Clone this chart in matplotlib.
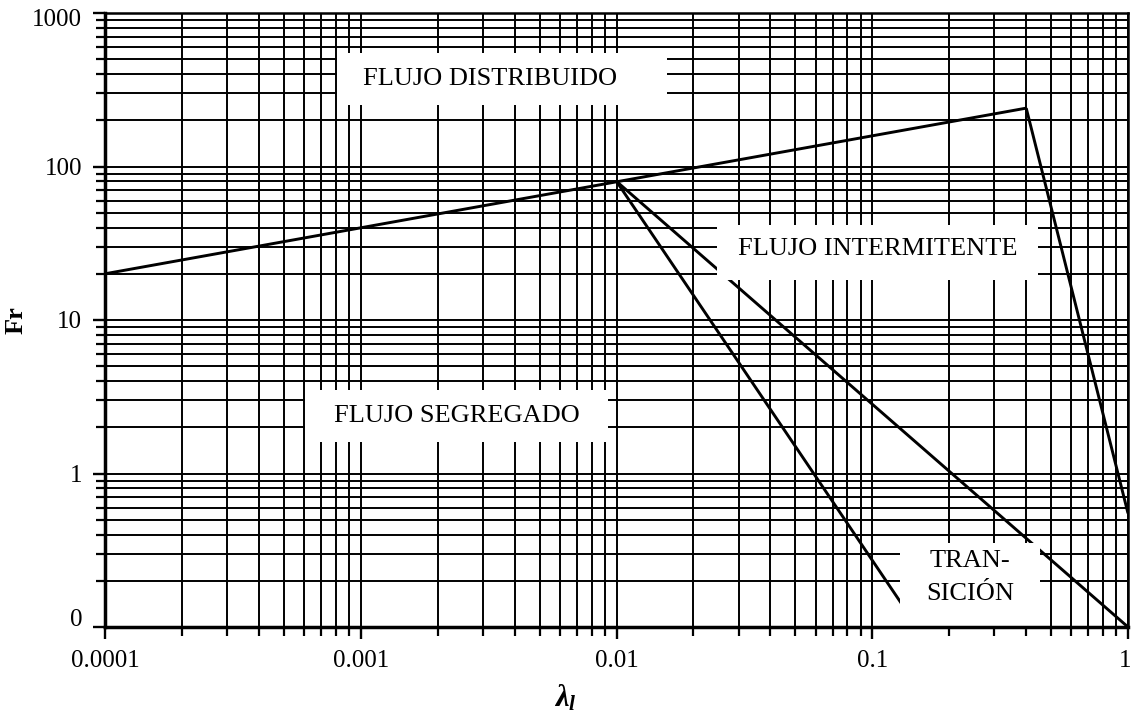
import matplotlib
matplotlib.use("Agg")
import matplotlib.pyplot as plt
from matplotlib.ticker import LogLocator, FixedLocator, FixedFormatter, NullFormatter
from matplotlib.patches import Rectangle
from matplotlib.transforms import ScaledTranslation

plt.rcParams['font.family'] = ['Liberation Serif', 'DejaVu Serif']
plt.rcParams['mathtext.fontset'] = 'custom'
plt.rcParams['mathtext.rm'] = 'Liberation Serif'
plt.rcParams['mathtext.it'] = 'Liberation Serif:italic:bold'
plt.rcParams['mathtext.bf'] = 'Liberation Serif:bold'

# Flow-pattern boundaries (liquid holdup lambda_l vs Froude number)
lam_upper = [1e-4, 0.4]
fr_upper = [20, 240]
lam_right = [0.4, 1.0]
fr_right = [240, 0.55]
lam_steep = [0.01, 0.15]
fr_steep = [80, 0.1]
lam_mid = [0.01, 1.0]
fr_mid = [80, 0.1]

x_ticks = [1e-4, 1e-3, 1e-2, 1e-1, 1]
x_labels = ['0.0001', '0.001', '0.01', '0.1', '1']
y_ticks = [0.1, 1, 10, 100, 1000]
y_labels = ['0', '1', '10', '100', '1000']

region_labels = ['FLUJO DISTRIBUIDO', 'FLUJO SEGREGADO', 'FLUJO INTERMITENTE']

fig = plt.figure(figsize=(11.31, 7.15), dpi=100)
ax = fig.add_axes([105 / 1131, 88 / 715, 1023 / 1131, 614 / 715])
ax.set_xscale('log')
ax.set_yscale('log')
ax.set_xlim(1e-4, 1)
ax.set_ylim(0.1, 1000)

ax.xaxis.set_major_locator(FixedLocator(x_ticks))
ax.xaxis.set_major_formatter(FixedFormatter(x_labels))
ax.yaxis.set_major_locator(FixedLocator(y_ticks))
ax.yaxis.set_major_formatter(FixedFormatter(y_labels))
ax.xaxis.set_minor_locator(LogLocator(base=10, subs=range(2, 10), numticks=20))
ax.yaxis.set_minor_locator(LogLocator(base=10, subs=range(2, 10), numticks=20))
ax.xaxis.set_minor_formatter(NullFormatter())
ax.yaxis.set_minor_formatter(NullFormatter())

ax.grid(which='both', color='black', linewidth=1.4, zorder=0)
ax.set_axisbelow(True)
ax.tick_params(which='major', direction='out', length=8.5, width=1.7,
               labelsize=18, pad=8, colors='black')
ax.tick_params(which='minor', direction='out', length=6.5, width=1.6)

for side in ('left', 'bottom'):
    ax.spines[side].set_linewidth(2.5)
    ax.spines[side].set_zorder(6)
for side in ('top', 'right'):
    ax.spines[side].set_linewidth(1.8)

line_kw = dict(color='black', linewidth=2.1, zorder=3, solid_capstyle='butt')
ax.plot(lam_upper, fr_upper, **line_kw)
ax.plot(lam_right, fr_right, **line_kw)
ax.plot(lam_steep, fr_steep, **line_kw)
ax.plot(lam_mid, fr_mid, **line_kw)

# White label panels drawn over the grid (axes-fraction coordinates)
panels = [
    (0.2268, 0.850, 0.3226, 0.085),
    (0.1955, 0.3013, 0.2962, 0.0847),
    (0.598, 0.565, 0.3145, 0.0897),
    (0.7771, 0.0, 0.1369, 0.1368),
]
for x0, y0, w, h in panels:
    ax.add_patch(Rectangle((x0, y0), w, h, transform=ax.transAxes,
                           facecolor='white', edgecolor='none', zorder=4))

txt_kw = dict(transform=ax.transAxes, fontsize=19, ha='center', va='center',
              zorder=5, color='black')
ax.text(0.376, 0.8925, region_labels[0], **txt_kw)
ax.text(0.3436, 0.3436, region_labels[1], **txt_kw)
ax.text(0.7556, 0.6156, region_labels[2], **txt_kw)
ax.text(0.8456, 0.1075, 'TRAN-', **txt_kw)
ax.text(0.8456, 0.0537, 'SICIÓN', **txt_kw)

ax.set_ylabel('Fr', fontsize=19, fontweight='bold')
ax.yaxis.set_label_coords(-0.076, 0.5)
ax.set_xlabel(r'$\lambda_l$', fontsize=22)
ax.xaxis.set_label_coords(0.4497, -0.092)

# Small nudges so the end labels sit inside the frame
def nudge(label, dx_px, dy_px):
    off = ScaledTranslation(dx_px / 100, dy_px / 100, fig.dpi_scale_trans)
    label.set_transform(label.get_transform() + off)

ylabs = ax.get_yticklabels()
nudge(ylabs[0], 0, 10)
nudge(ylabs[-1], 0, -4)
xlabs = ax.get_xticklabels()
nudge(xlabs[-1], -3, 0)

fig.savefig('out.png', dpi=100)
